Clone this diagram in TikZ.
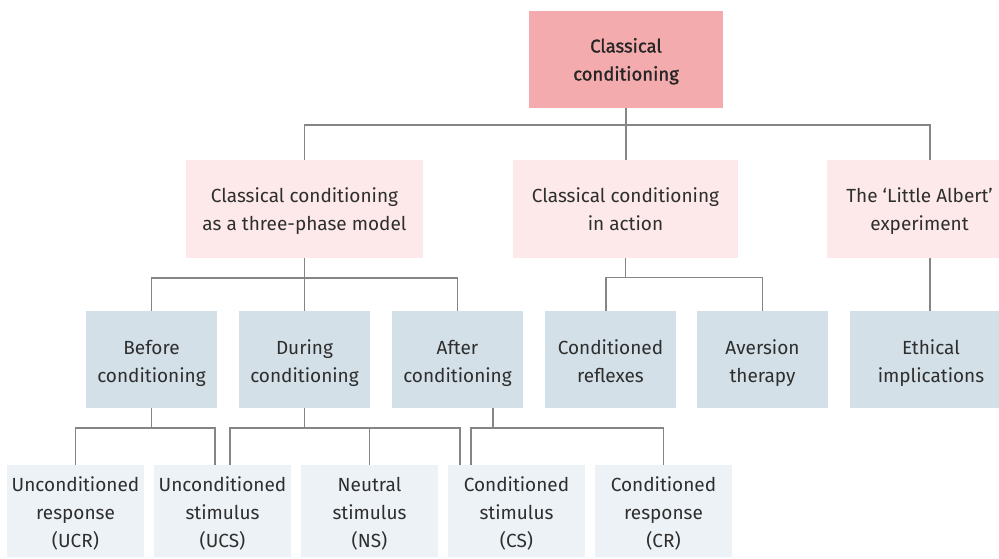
\documentclass[tikz,border=0pt]{standalone}
\usepackage{fontspec}
\setmainfont{Fira Sans}
\newfontfamily\headfont{Fira Sans}[FakeBold=1.3]
\usetikzlibrary{calc}
\definecolor{rootfill}{HTML}{F4ABAD}
\definecolor{topicfill}{HTML}{FDE9EA}
\definecolor{phasefill}{HTML}{D3E0E8}
\definecolor{termfill}{HTML}{EDF2F6}
\definecolor{linkgrey}{HTML}{858585}
\definecolor{inkgrey}{HTML}{2E2E2E}
% fixed line struts so every box centres its text by baselines
\newcommand\ls{\rule[-7pt]{0pt}{28pt}}
\newcommand\lsl{\rule[-5.5pt]{0pt}{28pt}}
\tikzset{
  box/.style={rectangle, inner sep=0pt, align=center, text=inkgrey,
    font=\fontsize{19}{28}\selectfont},
  rootbox/.style={box, fill=rootfill, minimum width=194pt, minimum height=97pt,
    font=\headfont\fontsize{18.5}{28}\selectfont, text=black!85},
  topicbox/.style={box, fill=topicfill, minimum height=98pt},
  phasebox/.style={box, fill=phasefill, minimum width=131pt, minimum height=97pt},
  termbox/.style={box, fill=termfill, minimum width=137pt, minimum height=92pt},
  link/.style={draw=linkgrey, line width=1.5pt}
}
\begin{document}
\begin{tikzpicture}[x=1pt, y=-1pt]
\clip (0,0) rectangle (999,558);
\fill[white] (0,0) rectangle (999,558);

% root
\node[rootbox] (root) at (626,59.5) {\ls Classical\\conditioning\ls};

% second level
\node[topicbox, minimum width=237pt] (model) at (304.5,209) {\ls Classical conditioning\\as a three-phase model\ls};
\node[topicbox, minimum width=225pt] (action) at (625.5,209) {\ls Classical conditioning\\in action\ls};
\node[topicbox, minimum width=185pt] (albert) at (919.5,209) {\ls The `Little Albert'\\experiment\ls};

% third level
\node[phasebox] (before) at (151.5,359.5) {\lsl Before\\conditioning\lsl};
\node[phasebox] (during) at (304.5,359.5) {\lsl During\\conditioning\lsl};
\node[phasebox] (after) at (457.5,359.5) {\lsl After\\conditioning\lsl};
\node[phasebox] (reflex) at (610.5,359.5) {\lsl Conditioned\\reflexes\lsl};
\node[phasebox] (aversion) at (762.5,359.5) {\lsl Aversion\\therapy\lsl};
\node[phasebox, minimum width=162pt] (ethics) at (931,359.5) {\lsl Ethical\\implications\lsl};

% fourth level
\node[termbox] (ucr) at (75.5,511) {\lsl Unconditioned\\response\\(UCR)\lsl};
\node[termbox] (ucs) at (222.5,511) {\lsl Unconditioned\\stimulus\\(UCS)\lsl};
\node[termbox] (ns) at (369.5,511) {\lsl Neutral\\stimulus\\(NS)\lsl};
\node[termbox] (cs) at (516.5,511) {\lsl Conditioned\\stimulus\\(CS)\lsl};
\node[termbox] (cr) at (663.5,511) {\lsl Conditioned\\response\\(CR)\lsl};

% root to second level
\draw[link] (root.south) -- (root.south |- action.north);
\draw[link] (model.north) -- ++(0,-35) -| ([xshift=10.5pt]albert.north);

% second to third level
\draw[link] (model.south) -- (during.north);
\draw[link] (before.north) -- ++(0,-33) -| (after.north);
\draw[link] (action.south) -- ++(0,19.5) coordinate (actionbus);
\draw[link] ([xshift=-4.5pt]reflex.north) |- (actionbus) -| (aversion.north);
\draw[link] ([xshift=10.5pt]albert.south) -- ([xshift=10.5pt]albert.south |- ethics.north);

% third to fourth level
\draw[link] (before.south) -- ++(0,20) coordinate (beforebus);
\draw[link] (ucr.north) |- (beforebus) -| ([xshift=-7.5pt]ucs.north);
\draw[link] (during.south) -- ++(0,20) coordinate (duringbus);
\draw[link] ([xshift=7.5pt]ucs.north) |- (duringbus) -| ([xshift=-56.5pt]cs.north);
\draw[link] (ns.north) -- (ns.north |- duringbus);
\draw[link] ([xshift=35.5pt]after.south) -- ++(0,20) coordinate (afterbus);
\draw[link] ([xshift=-45.5pt]cs.north) |- (afterbus) -| (cr.north);
\end{tikzpicture}
\end{document}
